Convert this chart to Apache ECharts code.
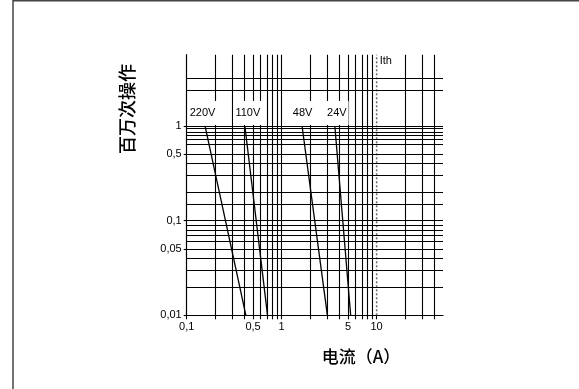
<!DOCTYPE html>
<html>
<head>
<meta charset="utf-8">
<title>电流寿命曲线</title>
<script src="https://cdn.jsdelivr.net/npm/echarts@6/dist/echarts.min.js"></script>
<style>
html, body { margin: 0; padding: 0; background: #fff; }
#chart { width: 579px; height: 389px; }
</style>
</head>
<body>
<div id="chart"></div>
<script>
// 各电压曲线：1 百万次 和 0.01 百万次 时对应的电流 (A)
var voltages = ['220V', '110V', '48V', '24V'];
var currentAt1M = [0.156, 0.41, 1.64, 3.63];
var currentAt10k = [0.42, 0.71, 3.03, 5.33];
var opsTop = 1;
var opsBottom = 0.01;
var ith = 10;

// 网格线 (对数坐标)
var xGrid = [0.2, 0.3, 0.4, 0.5, 0.6, 0.7, 0.8, 0.9, 1, 2, 3, 4, 5, 6, 7, 8, 9, 20, 30, 40];
var yGrid = [0.02, 0.03, 0.04, 0.05, 0.058, 0.064, 0.072, 0.078, 0.086, 0.1, 0.155, 0.2, 0.3, 0.4,
    0.5, 0.64, 0.72, 0.8, 0.86, 0.94, 1, 2.36, 3.19];
var xTicks = [0.1, 0.5, 1, 5, 10];
var yTicks = [0.01, 0.05, 0.1, 0.5, 1];
var xMin = 0.1, xMax = 50, yMin = 0.01, yMax = 5.66;

// 标签微调
var labelShift = [-2.5, 3, 0.5, 2];

var FONT = 'Liberation Sans';

let fmt = (v) => String(parseFloat((+v).toPrecision(4))).replace('.', ',');

let chart = echarts.init(document.getElementById('chart'), null, { renderer: 'canvas' });

let curveSeries = voltages.map((name, i) => ({
    name: name,
    type: 'line',
    z: 5,
    silent: true,
    animation: false,
    symbol: 'circle',
    symbolSize: 0.01,
    showSymbol: true,
    lineStyle: { color: '#000', width: 1.3 },
    itemStyle: { color: '#000' },
    data: [
        {
            value: [currentAt1M[i], opsTop],
            label: {
                show: true,
                position: 'top',
                distance: 1,
                offset: [labelShift[i], 0],
                formatter: name,
                fontFamily: FONT,
                fontSize: 11,
                lineHeight: 13,
                color: '#000',
                backgroundColor: '#fff',
                padding: [6, 2, 5, 2]
            }
        },
        [currentAt10k[i], opsBottom]
    ]
}));

let option = {
    animation: false,
    backgroundColor: '#fff',
    grid: { left: 186.7, top: 54.7, width: 256.3, height: 260.6, containLabel: false },
    xAxis: {
        type: 'log',
        logBase: 10,
        min: xMin,
        max: xMax,
        axisLine: { show: true, onZero: false, lineStyle: { color: '#000', width: 1.2 } },
        splitLine: { show: false },
        minorTick: { show: false },
        axisTick: { show: true, length: 4, customValues: [xMin].concat(xGrid, [ith]), lineStyle: { color: '#000', width: 1.1 } },
        axisLabel: { customValues: xTicks, formatter: fmt, fontFamily: FONT, fontSize: 11, color: '#000', margin: 6 }
    },
    yAxis: {
        type: 'log',
        logBase: 10,
        min: yMin,
        max: yMax,
        axisLine: { show: true, onZero: false, lineStyle: { color: '#000', width: 1.2 } },
        splitLine: { show: false },
        minorTick: { show: false },
        axisTick: { show: true, length: 3, customValues: yTicks, lineStyle: { color: '#000', width: 1.1 } },
        axisLabel: { customValues: yTicks, formatter: fmt, fontFamily: FONT, fontSize: 11, color: '#000', margin: 5 }
    },
    graphic: [
        { type: 'line', shape: { x1: 13, y1: 0, x2: 13, y2: 389 }, style: { stroke: '#444', lineWidth: 1.5 } },
        { type: 'line', shape: { x1: 13, y1: 0.7, x2: 579, y2: 0.7 }, style: { stroke: '#444', lineWidth: 1.5 } },
        {
            type: 'text', x: 127, y: 109, rotation: Math.PI / 2,
            style: { text: '百万次操作', font: '500 18px "Noto Sans CJK SC"', fill: '#000', textAlign: 'center', textVerticalAlign: 'middle' }
        },
        {
            type: 'text', x: 361, y: 357,
            style: { text: '电流（A）', font: '500 17px "Noto Sans CJK SC"', fill: '#000', textAlign: 'center', textVerticalAlign: 'middle' }
        }
    ],
    series: [
        {
            // 网格线
            name: 'grid',
            type: 'line',
            z: 1,
            silent: true,
            data: [],
            markLine: {
                silent: true,
                animation: false,
                symbol: 'none',
                label: { show: false },
                lineStyle: { color: '#000', width: 1.1, type: 'solid' },
                data: xGrid.map(v => ({ xAxis: v })).concat(yGrid.map(v => ({ yAxis: v })))
            }
        },
        {
            // Ith 虚线
            name: 'Ith',
            type: 'line',
            z: 2,
            silent: true,
            symbol: 'circle',
            symbolSize: 0.01,
            lineStyle: { color: '#666', width: 1.5, type: [2, 2] },
            itemStyle: { color: '#666' },
            data: [
                [ith, yMin],
                {
                    value: [ith, yMax],
                    label: {
                        show: true, position: 'right', distance: 3, offset: [0, 6],
                        formatter: 'Ith', fontFamily: FONT, fontSize: 11, color: '#000'
                    }
                }
            ]
        }
    ].concat(curveSeries)
};

chart.setOption(option);
</script>
</body>
</html>
